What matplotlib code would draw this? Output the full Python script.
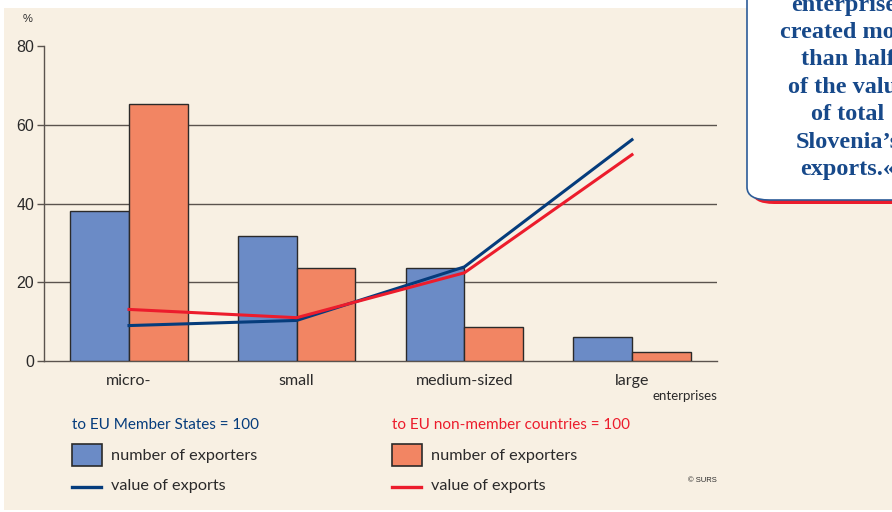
import numpy as np
import matplotlib
matplotlib.use('Agg')
import matplotlib.pyplot as plt
from matplotlib.patches import Rectangle, FancyBboxPatch
from matplotlib.lines import Line2D

# --- data (%)
categories = ['micro-', 'small', 'medium-sized', 'large']
eu_exporters = [38.0, 31.8, 23.7, 6.2]
noneu_exporters = [65.2, 23.6, 8.7, 2.3]
eu_value = [9.0, 10.3, 23.9, 56.2]
noneu_value = [13.1, 11.0, 22.4, 52.4]
yticks = [0, 20, 40, 60, 80]

BG = '#f8f0e3'
C_BLUE = '#6b8bc6'
C_ORANGE = '#f28563'
C_NAVY = '#053c7c'
C_RED = '#ec1c2c'
C_GRID = '#5a534e'
C_EDGE = '#2b2a2a'
C_TXT = '#2b2a2a'
LBL_FONT = 'Lato'

W, H = 892, 512
fig = plt.figure(figsize=(W / 100, H / 100), dpi=100)
fig.patch.set_facecolor('white')


def fx(x):
    return x / W


def fy(y):
    return 1 - y / H


# beige panel
fig.patches.append(Rectangle((fx(4), fy(510)), fx(892) - fx(4), fy(8) - fy(510),
                             transform=fig.transFigure, facecolor=BG, edgecolor='none', zorder=-5))

ax = fig.add_axes([fx(44), fy(361), fx(717) - fx(44), fy(46) - fy(361)])
ax.set_facecolor('none')
x = np.arange(len(categories))
bw = 0.349
ax.bar(x - bw / 2, eu_exporters, bw, color=C_BLUE, edgecolor=C_EDGE, lw=1.0, zorder=3)
ax.bar(x + bw / 2, noneu_exporters, bw, color=C_ORANGE, edgecolor=C_EDGE, lw=1.0, zorder=3)
ax.plot(x, eu_value, color=C_NAVY, lw=2.2, zorder=5, solid_joinstyle='miter')
ax.plot(x, noneu_value, color=C_RED, lw=2.2, zorder=6, solid_joinstyle='miter')

for v in yticks[1:-1]:
    ax.axhline(v, color=C_GRID, lw=1.0, zorder=1)

ax.set_xlim(-0.507, 3.507)
ax.set_ylim(0, 80)
ax.set_yticks(yticks)
ax.set_yticklabels([str(v) for v in yticks], fontsize=11.5, family='Liberation Sans', color=C_TXT)
ax.tick_params(axis='y', length=5, width=1.0, color=C_GRID, pad=2)
ax.set_xticks([])
for s in ('top', 'right'):
    ax.spines[s].set_visible(False)
for s in ('left', 'bottom'):
    ax.spines[s].set_color(C_GRID)
    ax.spines[s].set_linewidth(1.0)

for i, c in enumerate(categories):
    ax.text(x[i], -3.2, c, ha='center', va='top', fontsize=11.5, family=LBL_FONT, color=C_TXT)
ax.text(3.507, -7.4, 'enterprises', ha='right', va='top', fontsize=9.5, family=LBL_FONT, color=C_TXT)
fig.text(fx(23), fy(19), '%', ha='left', va='center', fontsize=8, family='Liberation Sans', color=C_TXT)

# legend
fig.text(fx(72), fy(425), 'to EU Member States = 100', ha='left', va='center', fontsize=11,
         family=LBL_FONT, color=C_NAVY)
fig.text(fx(392), fy(425), 'to EU non-member countries = 100', ha='left', va='center', fontsize=11,
         family=LBL_FONT, color=C_RED)
for x0, col, lc in ((72, C_BLUE, C_NAVY), (392, C_ORANGE, C_RED)):
    fig.patches.append(Rectangle((fx(x0), fy(466)), fx(30), 22 / H, transform=fig.transFigure,
                                 facecolor=col, edgecolor=C_EDGE, lw=1.2, zorder=2))
    fig.lines.append(Line2D([fx(x0), fx(x0 + 29)], [fy(487), fy(487)], transform=fig.transFigure,
                            color=lc, lw=2.4))
    fig.text(fx(x0 + 39), fy(456), 'number of exporters', ha='left', va='center', fontsize=11.7,
             family=LBL_FONT, color=C_TXT)
    fig.text(fx(x0 + 39), fy(486), 'value of exports', ha='left', va='center', fontsize=11.7,
             family=LBL_FONT, color=C_TXT)
fig.text(fx(717), fy(481), '© SURS', ha='right', va='center', fontsize=5.5,
         family='Liberation Sans', color=C_TXT)

# callout box (cut by the figure edge, as in the reference)
fig.patches.append(FancyBboxPatch((fx(752), fy(204)), fx(200), fy(-40) - fy(204),
                                  boxstyle='round,pad=0,rounding_size=0.025', transform=fig.transFigure,
                                  facecolor=C_RED, edgecolor='none', zorder=1))
fig.patches.append(FancyBboxPatch((fx(747), fy(200)), fx(200), fy(-40) - fy(200),
                                  boxstyle='round,pad=0,rounding_size=0.025', transform=fig.transFigure,
                                  facecolor='white', edgecolor='#2d5c98', lw=1.2, zorder=2))
callout = ['enterprises', 'created more', 'than half', 'of the value', 'of total',
           'Slovenia\u2019s', 'exports.\u00ab']
for i, t in enumerate(callout):
    fig.text(fx(848), fy(5 + 27.4 * i), t, ha='center', va='center', fontsize=17.5, weight='bold',
             family='Liberation Serif', color='#17498a', zorder=3)

fig.savefig('out.png', dpi=100, facecolor=fig.get_facecolor())
